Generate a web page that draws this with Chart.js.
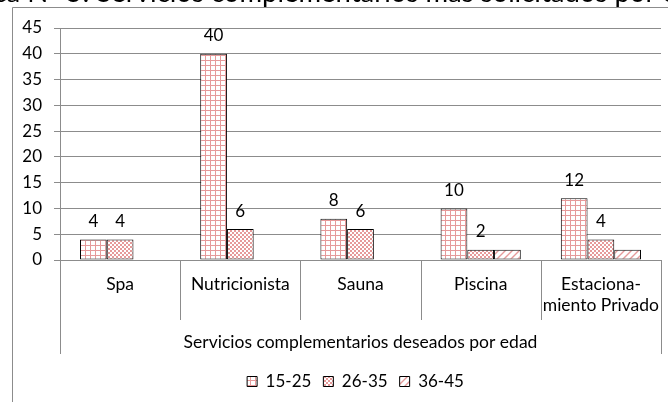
<!DOCTYPE html>
<html>
<head>
<meta charset="utf-8">
<script src="https://cdn.jsdelivr.net/npm/chart.js@4/dist/chart.umd.min.js"></script>
<style>
  html, body { margin: 0; padding: 0; background: #fff; }
  #wrap { width: 668px; height: 402px; }
</style>
</head>
<body>
<div id="wrap"><canvas id="chart" width="668" height="402"></canvas></div>
<script>
const categories = ['Spa', 'Nutricionista', 'Sauna', 'Piscina', ['Estaciona-', 'miento Privado']];
const ageGroups = ['15-25', '26-35', '36-45'];
const age15to25 = [4, 40, 8, 10, 12];
const age26to35 = [4, 6, 6, 2, 4];
const age36to45 = [null, null, null, 2, 2];
const yTicks = [0, 5, 10, 15, 20, 25, 30, 35, 40, 45];
const showValues = [true, true, false];
const axisTitle = 'Servicios complementarios deseados por edad';
const pageTitle = 'Gráfica N° 5: Servicios complementarios más solicitados por edad';

const pink = '#e69a9a';
const family = 'Lato, "Open Sans", sans-serif';
const textFont = { family: family, size: 17.5 };
const numFont = { family: family, size: 17 };

function makePattern(kind) {
  const c = document.createElement('canvas');
  const g = c.getContext('2d');
  if (kind === 'grid') {
    c.width = 5; c.height = 5;
    g.fillStyle = '#fff'; g.fillRect(0, 0, 5, 5);
    g.fillStyle = pink;
    g.fillRect(0, 0, 5, 1);
    g.fillRect(0, 0, 1, 5);
  } else if (kind === 'check') {
    c.width = 4; c.height = 4;
    g.fillStyle = '#fff'; g.fillRect(0, 0, 4, 4);
    g.fillStyle = pink;
    g.fillRect(0, 0, 2, 2);
    g.fillRect(2, 2, 2, 2);
  } else {
    c.width = 7; c.height = 7;
    g.fillStyle = '#fff'; g.fillRect(0, 0, 7, 7);
    g.strokeStyle = pink; g.lineWidth = 1.4;
    g.beginPath();
    g.moveTo(-1, 8); g.lineTo(8, -1);
    g.moveTo(-1, 1); g.lineTo(1, -1);
    g.moveTo(6, 8); g.lineTo(8, 6);
    g.stroke();
  }
  return document.createElement('canvas').getContext('2d').createPattern(c, 'repeat');
}

const fills = [makePattern('grid'), makePattern('check'), makePattern('diag')];

const decorations = {
  id: 'decorations',
  afterLayout(chart) {
    // the legend sits a little right of the canvas centre
    chart.legend.left += 19;
    chart.legend.right += 19;
    chart.legend.top += 4;
    chart.legend.bottom += 4;
  },
  afterDatasetsDraw(chart) {
    const ctx = chart.ctx;
    ctx.save();
    ctx.font = numFont.size + 'px ' + family;
    ctx.fillStyle = '#000';
    ctx.textAlign = 'center';
    ctx.textBaseline = 'middle';
    chart.data.datasets.forEach((ds, i) => {
      if (!showValues[i]) return;
      chart.getDatasetMeta(i).data.forEach((bar, j) => {
        const v = ds.data[j];
        if (!v) return;
        ctx.fillText(String(v), bar.x, bar.y - 18);
      });
    });
    ctx.restore();
  },
  afterDraw(chart) {
    const { ctx, chartArea, scales: { x } } = chart;
    ctx.save();
    ctx.strokeStyle = '#8c8c8c';
    ctx.lineWidth = 1;
    // outer chart frame
    ctx.beginPath();
    ctx.moveTo(12.5, chart.height);
    ctx.lineTo(12.5, 7.5);
    ctx.lineTo(chart.width, 7.5);
    ctx.stroke();
    // multi-level category separators
    const n = categories.length;
    const step = (x.right - x.left) / n;
    for (let i = 0; i <= n; i++) {
      const px = Math.round(x.left + i * step) + 0.5;
      const end = (i === 0 || i === n) ? chartArea.bottom + 94 : chartArea.bottom + 60;
      ctx.beginPath();
      ctx.moveTo(px, chartArea.bottom);
      ctx.lineTo(px, end);
      ctx.stroke();
    }
    // title cut off by the top of the picture
    ctx.fillStyle = '#000';
    ctx.textBaseline = 'alphabetic';
    ctx.textAlign = 'left';
    ctx.font = '20px ' + family;
    const i1 = pageTitle.indexOf('plementarios');
    const i2 = pageTitle.indexOf(' por') + 1;
    const d = ctx.measureText(pageTitle.slice(0, i2)).width - ctx.measureText(pageTitle.slice(0, i1)).width;
    const size = 20 * 353 / d;
    ctx.font = size.toFixed(1) + 'px ' + family;
    const x0 = 262 - ctx.measureText(pageTitle.slice(0, i1)).width;
    ctx.fillText(pageTitle, x0, 1.5);
    ctx.restore();
  }
};

new Chart(document.getElementById('chart'), {
  type: 'bar',
  data: {
    labels: categories,
    datasets: ageGroups.map((g, i) => ({
      label: g,
      data: [age15to25, age26to35, age36to45][i],
      backgroundColor: fills[i],
      borderColor: '#000',
      borderWidth: 1,
      borderSkipped: false,
      categoryPercentage: 0.667,
      barPercentage: 1.0
    }))
  },
  options: {
    responsive: false,
    animation: false,
    devicePixelRatio: 1,
    layout: { padding: { left: 12, right: 7, top: 28, bottom: 6 } },
    scales: {
      x: {
        grid: { display: false },
        border: { display: true, color: '#8c8c8c' },
        ticks: { font: textFont, color: '#000', padding: 6, maxRotation: 0, autoSkip: false },
        title: { display: true, text: axisTitle, font: textFont, color: '#000', padding: { top: 4, bottom: 4 } },
        afterFit(s) { s.height = 97; }
      },
      y: {
        min: 0,
        max: 45,
        afterBuildTicks(s) { s.ticks = yTicks.map(v => ({ value: v })); },
        grid: { color: '#8c8c8c', tickLength: 6 },
        border: { display: true, color: '#8c8c8c' },
        ticks: { font: numFont, color: '#000', padding: 12 },
        afterFit(s) { s.width = 48; }
      }
    },
    plugins: {
      legend: {
        position: 'bottom',
        labels: { boxWidth: 10, boxHeight: 10, font: numFont, color: '#000', padding: 12 }
      },
      tooltip: { enabled: false }
    }
  },
  plugins: [decorations]
});
</script>
</body>
</html>
